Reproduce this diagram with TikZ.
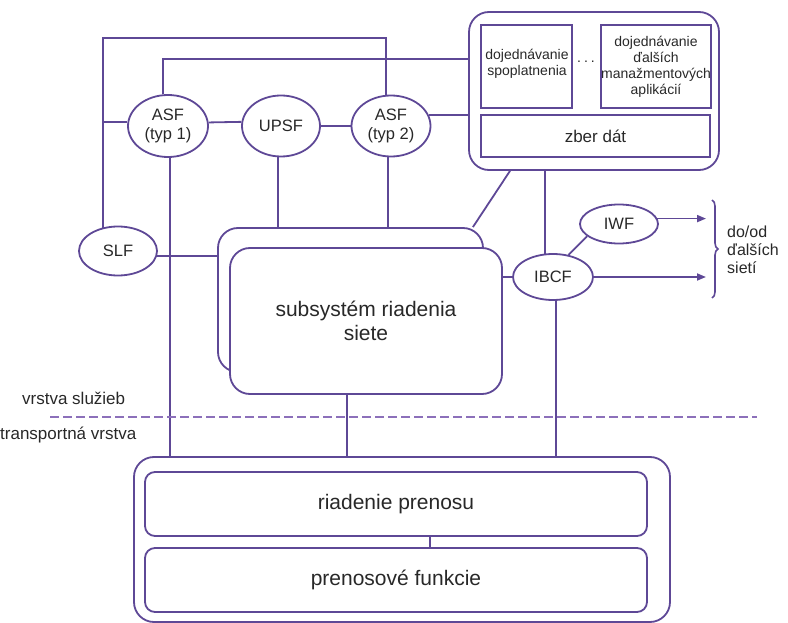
\documentclass[tikz,border=0pt]{standalone}
\usepackage{fontspec}
\setmainfont{Liberation Sans}
\usetikzlibrary{shapes.geometric,arrows.meta,decorations.pathreplacing}
\definecolor{wire}{RGB}{94,72,150}
\definecolor{sepcol}{RGB}{140,112,186}
\definecolor{ink}{RGB}{40,40,40}
\tikzset{
  outline/.style={draw=wire, line width=1.8pt, text=ink, inner sep=0pt, align=center},
  fnode/.style={outline, ellipse, font=\fontsize{16.5}{19.5}\selectfont},
  sqbox/.style={outline, rectangle},
  rdbox/.style={outline, rectangle, rounded corners=20pt},
  smallbox/.style={outline, rectangle, rounded corners=10pt},
  smalltxt/.style={text=ink, inner sep=0pt, align=center, font=\fontsize{14}{16}\selectfont},
  bigtxt/.style={font=\fontsize{21}{24}\selectfont},
  midtxt/.style={font=\fontsize{17}{20}\selectfont},
  lbl/.style={text=ink, inner sep=0pt, font=\fontsize{17}{18}\selectfont},
  link/.style={draw=wire, line width=1.8pt},
  arrowed/.style={-{Triangle[length=9pt,width=7pt]}},
  sepline/.style={draw=sepcol, line width=1.8pt, dash pattern=on 9pt off 4pt},
}
\begin{document}
\begin{tikzpicture}[x=1pt,y=-1pt]
\useasboundingbox (0,0) rectangle (788,623);

% service functions
\node[fnode, minimum width=80pt, minimum height=62pt] (asf1) at (168,126) {ASF\\(typ 1)};
\node[fnode, minimum width=78pt, minimum height=61pt] (upsf) at (281,126) {UPSF};
\node[fnode, minimum width=79pt, minimum height=61pt] (asf2) at (391,126) {ASF\\(typ 2)};
\node[fnode, minimum width=78pt, minimum height=49pt] (slf) at (118,251) {SLF};
\node[fnode, minimum width=80pt, minimum height=46pt] (ibcf) at (553,277) {IBCF};
\node[fnode, minimum width=78pt, minimum height=39pt] (iwf) at (619,224) {IWF};

% management block
\node[rdbox, minimum width=250pt, minimum height=158pt] (mgmt) at (594,91) {};
\node[sqbox, minimum width=91pt, minimum height=83pt] (chg) at (526.5,66.5) {};
\node[smalltxt] (chgtxt) at (527,63.5) {dojednávanie\\spoplatnenia};
\node[sqbox, smalltxt, draw=wire, minimum width=108pt, minimum height=83pt] (apps) at (656,66.5)
  {dojednávanie\\ďalších\\manažmentových\\aplikácií};
\node[smalltxt] (dots) at (586,62) {.\hspace{3pt}.\hspace{3pt}.};
\node[sqbox, midtxt, minimum width=229pt, minimum height=42pt] (coll) at (595.5,136) {zber dát};

% network control subsystem (stacked)
\node[rdbox, minimum width=265pt, minimum height=144pt] (back) at (350.5,300) {};
\node[rdbox, bigtxt, fill=white, minimum width=272pt, minimum height=146pt] (front) at (366,321)
  {subsystém riadenia\\siete};

% transport stratum
\node[rdbox, minimum width=536pt, minimum height=165pt] (trans) at (402,539.5) {};
\node[smallbox, bigtxt, minimum width=502pt, minimum height=64pt] (ctrl) at (396,504) {riadenie prenosu};
\node[smallbox, bigtxt, minimum width=502pt, minimum height=64pt] (xfer) at (396,580) {prenosové funkcie};

% helper coordinates
\coordinate (t1) at (0,38);
\coordinate (t2) at (0,59);
\coordinate (edge) at (706,0);
\coordinate (drop) at (555.6,0);

% connectors
\draw[link] (slf.123.6) -- (slf.123.6 |- t1) -| (asf2.99.4);
\draw[link] (asf1.99.2) -- (asf1.99.2 |- t2) -- (mgmt.west |- t2);
\draw[link] (slf.123.6 |- asf1.174) -- (asf1.174);
\draw[link] (asf1.5.8) -- (upsf.174.1);
\draw[link] (upsf.east) -- (asf2.west);
\draw[link] (asf2.16.6) -- (asf2.16.6 -| mgmt.west);
\draw[link] (asf1.-86.3) -- (asf1.-86.3 |- trans.north);
\draw[link] (upsf.-95.6) -- (upsf.-95.6 |- back.north);
\draw[link] (asf2.-95.6) -- (asf2.-95.6 |- back.north);
\draw[link] (slf.-7.5) -- (slf.-7.5 -| back.west);
\draw[link] ([xshift=-84pt]mgmt.south) -- ([xshift=-11pt]back.north east);
\draw[link] (ibcf.109.6 |- mgmt.south) -- (ibcf.109.6);
\draw[link] (front.east |- ibcf.west) -- (ibcf.west);
\draw[link] (drop |- ibcf.south) -- (drop |- trans.north);
\draw[link] (ibcf.55.7) -- (iwf.-159.6);
\draw[link, arrowed] (iwf.8) -- (iwf.8 -| edge);
\draw[link, arrowed] (ibcf.east) -- (ibcf.east -| edge);
\draw[link] ([xshift=-19pt]front.south) -- ([xshift=-19pt]front.south |- trans.north);
\draw[link] ([xshift=34pt]ctrl.south) -- ([xshift=34pt]xfer.north);

% brace towards other networks
\coordinate (b1) at (712,200);
\coordinate (b2) at (712,298);
\draw[link, line width=1.6pt, decorate, decoration={brace, amplitude=6pt}] (b1) -- (b2);
\node[lbl, font=\fontsize{16}{18}\selectfont, anchor=west, align=left] (nets) at (727,250) {do/od\\ďalších\\sietí};

% stratum separator
\coordinate (d1) at (50,417);
\coordinate (d2) at (757,417);
\draw[sepline] (d1) -- (d2);
\node[lbl, anchor=west] (svc) at (22,398) {vrstva služieb};
\node[lbl, anchor=west] (tl) at (0,435) {transportná vrstva};
\end{tikzpicture}
\end{document}
